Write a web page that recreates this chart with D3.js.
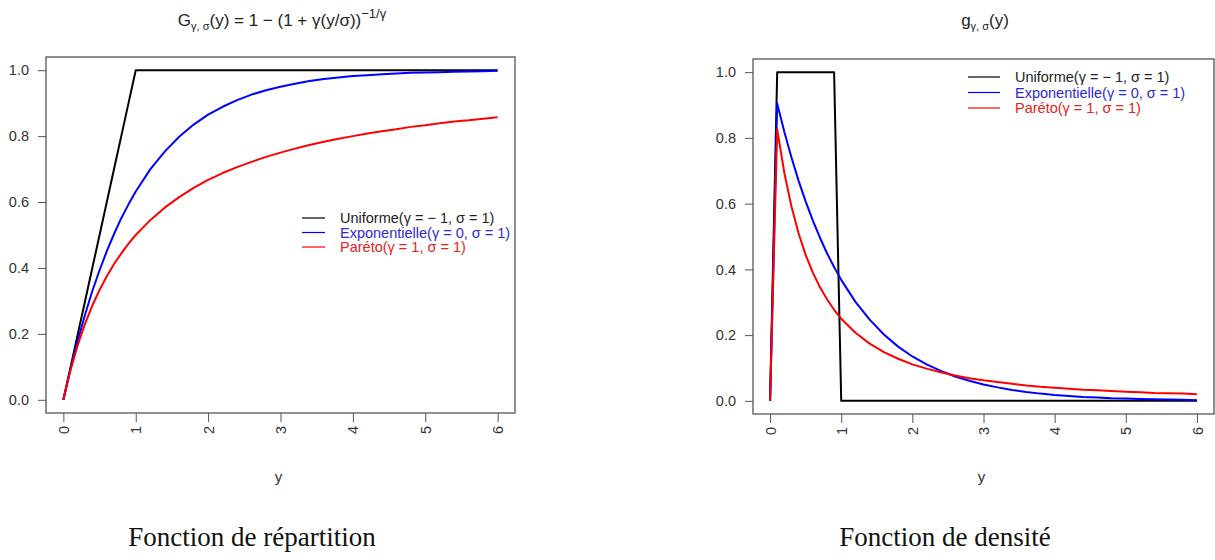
<!DOCTYPE html>
<html>
<head>
<meta charset="utf-8">
<script src="https://cdn.jsdelivr.net/npm/d3@7"></script>
<style>
  body { margin: 0; background: #fff; }
  svg { display: block; font-family: "Liberation Sans", Arial, sans-serif; }
  .tick text { fill: #333; font-size: 14.5px; }
  .cap { font-family: "Liberation Serif", "DejaVu Serif", serif; font-size: 27px; fill: #111; }
</style>
</head>
<body>
<svg id="fig" width="1215" height="560"></svg>
<script>
// sample points along y (same grid for both panels)
const Y = [0, 0.1, 0.2, 0.3, 0.4, 0.5, 0.6, 0.7, 0.8, 0.9, 1.0,
  1.2, 1.4, 1.6, 1.8, 2.0, 2.2, 2.4, 2.6, 2.8, 3.0, 3.2, 3.4, 3.6, 3.8, 4.0,
  4.2, 4.4, 4.6, 4.8, 5.0, 5.2, 5.4, 5.6, 5.8, 6.0];

// distribution functions
const cdfUnif = [0, .1, .2, .3, .4, .5, .6, .7, .8, .9, 1,
  1, 1, 1, 1, 1, 1, 1, 1, 1, 1, 1, 1, 1, 1, 1, 1, 1, 1, 1, 1, 1, 1, 1, 1, 1];
const cdfExp = [0, .095, .181, .259, .330, .393, .451, .503, .551, .593, .632,
  .699, .753, .798, .835, .865, .889, .909, .926, .939, .950, .959, .967, .973, .978, .982,
  .985, .988, .990, .992, .993, .994, .995, .996, .997, .998];
const cdfPar = [0, .091, .167, .231, .286, .333, .375, .412, .444, .474, .500,
  .545, .583, .615, .643, .667, .688, .706, .722, .737, .750, .762, .773, .783, .792, .800,
  .808, .815, .821, .828, .833, .839, .844, .848, .853, .857];

// densities
const pdfUnif = [0, 1, 1, 1, 1, 1, 1, 1, 1, 1, 0,
  0, 0, 0, 0, 0, 0, 0, 0, 0, 0, 0, 0, 0, 0, 0, 0, 0, 0, 0, 0, 0, 0, 0, 0, 0];
const pdfExp = [0, .905, .819, .741, .670, .607, .549, .497, .449, .407, .368,
  .301, .247, .202, .165, .135, .111, .091, .074, .061, .050, .041, .033, .027, .022, .018,
  .015, .012, .010, .008, .007, .006, .005, .004, .003, .002];
const pdfPar = [0, .826, .694, .592, .510, .444, .391, .346, .309, .277, .250,
  .207, .174, .148, .128, .111, .098, .087, .077, .069, .0625, .057, .052, .047, .043, .040,
  .037, .034, .032, .030, .028, .026, .024, .023, .022, .020];

const XTICKS = [0, 1, 2, 3, 4, 5, 6];
const YTICKS = [0, 0.2, 0.4, 0.6, 0.8, 1.0];
const LEGEND = ['Uniforme(γ = − 1, σ = 1)', 'Exponentielle(γ = 0, σ = 1)', 'Paréto(γ = 1, σ = 1)'];
const COLORS = ['#000000', '#0000ff', '#ff0000'];
const TEXTCOL = ['#222222', '#2b2bd6', '#e52222'];

const svg = d3.select('#fig');

function panel(p) {
  // R pads the data range by 4% on each side
  const x = d3.scaleLinear().domain([-0.24, 6.24]).range([p.l, p.r]);
  const y = d3.scaleLinear().domain([-0.04, 1.04]).range([p.b, p.t]);
  const g = svg.append('g');

  g.append('g').attr('transform', `translate(0,${p.b})`)
    .call(d3.axisBottom(x).tickValues(XTICKS).tickFormat(d3.format('d')).tickSize(9).tickSizeOuter(0))
    .call(a => a.select('.domain').remove())
    .call(a => a.selectAll('line').attr('stroke', '#555'))
    .call(a => a.selectAll('text').attr('transform', 'rotate(-90)')
      .attr('text-anchor', 'end').attr('x', -13).attr('y', 0).attr('dy', '0.35em'));

  g.append('g').attr('transform', `translate(${p.l},0)`)
    .call(d3.axisLeft(y).tickValues(YTICKS).tickFormat(d3.format('.1f')).tickSize(8).tickPadding(9).tickSizeOuter(0))
    .call(a => a.select('.domain').remove())
    .call(a => a.selectAll('line').attr('stroke', '#555'));

  g.append('rect').attr('x', p.l).attr('y', p.t)
    .attr('width', p.r - p.l).attr('height', p.b - p.t)
    .attr('fill', 'none').attr('stroke', '#555').attr('stroke-width', 1.3);

  const line = d3.line().x((d, i) => x(Y[i])).y(d => y(d));
  p.series.forEach((s, i) => {
    g.append('path').attr('d', line(s)).attr('fill', 'none')
      .attr('stroke', COLORS[i]).attr('stroke-width', 2).attr('stroke-linejoin', 'round');
  });

  // legend (no box)
  LEGEND.forEach((t, i) => {
    const ly = p.legY + i * p.legDy;
    g.append('line').attr('x1', p.legX).attr('x2', p.legX + p.legW)
      .attr('y1', ly).attr('y2', ly).attr('stroke', COLORS[i]).attr('stroke-width', 1.2);
    g.append('text').attr('x', p.legX + p.legW + 15).attr('y', ly).attr('dy', '0.35em')
      .attr('font-size', 14.5).attr('fill', TEXTCOL[i]).text(t);
  });

  g.append('text').attr('x', (x(0) + x(6)) / 2 - 2).attr('y', 482)
    .attr('text-anchor', 'middle').attr('font-size', 15).attr('fill', '#333').text('y');

  p.title(g.append('text').attr('x', p.titleX).attr('y', 26)
    .attr('text-anchor', 'middle').attr('font-size', 17).attr('fill', '#222'));

  svg.append('text').attr('class', 'cap').attr('x', p.capX).attr('y', 546)
    .attr('text-anchor', 'middle').text(p.caption);
}

panel({
  l: 46, r: 515, t: 57, b: 413,
  series: [cdfUnif, cdfExp, cdfPar],
  legX: 302, legW: 23, legY: 218, legDy: 14.5,
  titleX: 282, capX: 252, caption: 'Fonction de répartition',
  title: t => {
    t.append('tspan').text('G');
    t.append('tspan').attr('font-size', 11).attr('dy', 4).text('γ, σ');
    t.append('tspan').attr('dy', -4).text('(y) = 1 − (1 + γ(y/σ))');
    t.append('tspan').attr('font-size', 13).attr('dy', -8).text('−1/γ');
  }
});

panel({
  l: 753, r: 1214, t: 59, b: 414,
  series: [pdfUnif, pdfExp, pdfPar],
  legX: 968, legW: 32, legY: 77, legDy: 15.5,
  titleX: 985, capX: 945, caption: 'Fonction de densité',
  title: t => {
    t.append('tspan').text('g');
    t.append('tspan').attr('font-size', 11).attr('dy', 4).text('γ, σ');
    t.append('tspan').attr('dy', -4).text('(y)');
  }
});
</script>
</body>
</html>
